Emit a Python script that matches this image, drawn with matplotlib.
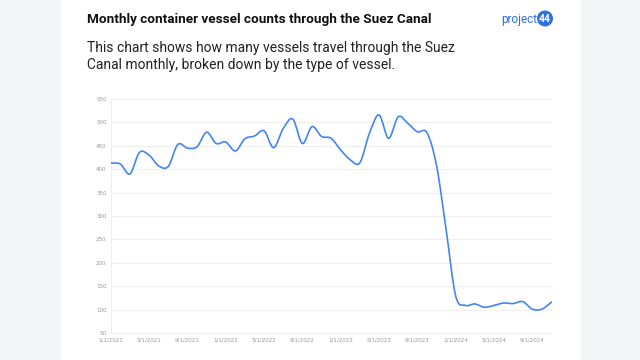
import numpy as np
import matplotlib.pyplot as plt
from matplotlib.path import Path
from matplotlib.patches import PathPatch, Rectangle, Ellipse

# monthly counts, Jan 2021 .. Nov 2024
vessels = [413, 411, 390, 436, 430, 407, 406, 453, 445, 448, 479, 455,
           458, 439, 465, 471, 482, 446, 487, 507, 455, 491, 470, 466,
           441, 420, 414, 477, 516, 466, 512, 498, 480, 478, 408, 271,
           129, 109, 112, 105, 109, 114, 113, 117, 101, 101, 116]
tick_labels = ["1/1/2021", "5/1/2021", "9/1/2021", "1/1/2022", "5/1/2022", "9/1/2022",
               "1/1/2023", "5/1/2023", "9/1/2023", "1/1/2024", "5/1/2024", "9/1/2024"]
y_ticks = list(range(50, 551, 50))

title = "Monthly container vessel counts through the Suez Canal"
subtitle = ["This chart shows how many vessels travel through the Suez",
            "Canal monthly, broken down by the type of vessel."]

blue = "#4285f4"

fig = plt.figure(figsize=(6.4, 3.6), dpi=100)
fig.patch.set_facecolor("#f4f5f7")
fig.patches.append(Rectangle((61 / 640, 0), 520 / 640, 1, transform=fig.transFigure,
                             facecolor="white", edgecolor="none", zorder=-5))

fig.text(87 / 640, 1 - 19 / 360, title, fontsize=9.7, fontweight="bold",
         family="Roboto", color="#111111", va="center")
for i, line in enumerate(subtitle):
    fig.text(87 / 640, 1 - (48 + 17 * i) / 360, line, fontsize=10, family="Roboto",
             color="#222222", va="center")

# logo
fig.text(537 / 640, 1 - 19 / 360, "project", fontsize=8.5, color="#2f6fe4",
         family="Roboto", ha="right", va="center")
fig.patches.append(Ellipse((545 / 640, 1 - 18.5 / 360), 16 / 640, 16 / 360,
                           transform=fig.transFigure, facecolor="#2f6fe4", edgecolor="none"))
fig.text(545 / 640, 1 - 19 / 360, "44", fontsize=7.5, color="white", fontweight="bold",
         family="Roboto", ha="center", va="center")

ax = fig.add_axes([110.8 / 640, 27 / 360, (551.5 - 110.8) / 640, 234 / 360])
ax.set_facecolor("white")

# smooth line through monthly points (Catmull-Rom as cubic Bezier)
x = np.arange(len(vessels), dtype=float)
y = np.array(vessels, dtype=float)
px = np.concatenate([[x[0]], x, [x[-1]]])
py = np.concatenate([[y[0]], y, [y[-1]]])
verts = [(x[0], y[0])]
codes = [Path.MOVETO]
for i in range(1, len(px) - 2):
    c1 = (px[i] + (px[i + 1] - px[i - 1]) / 6, py[i] + (py[i + 1] - py[i - 1]) / 6)
    c2 = (px[i + 1] - (px[i + 2] - px[i]) / 6, py[i + 1] - (py[i + 2] - py[i]) / 6)
    verts += [c1, c2, (px[i + 1], py[i + 1])]
    codes += [Path.CURVE4] * 3
ax.add_patch(PathPatch(Path(verts, codes), facecolor="none", edgecolor=blue,
                       lw=1.2, zorder=3, capstyle="round"))

ax.set_xlim(0, len(vessels) - 1)
ax.set_ylim(50, 550)
ax.set_yticks(y_ticks)
ax.set_xticks(np.arange(0, len(vessels), 4))
ax.set_xticklabels(tick_labels)
ax.tick_params(length=0, labelsize=4, labelcolor="#9a9a9a", pad=3)
ax.grid(axis="y", color="#efefef", lw=0.8)
ax.set_axisbelow(True)
for side in ["top", "right"]:
    ax.spines[side].set_visible(False)
for side in ["left", "bottom"]:
    ax.spines[side].set_color("#eeeeee")
    ax.spines[side].set_linewidth(0.8)

fig.savefig("out.png", dpi=100, facecolor=fig.get_facecolor())
